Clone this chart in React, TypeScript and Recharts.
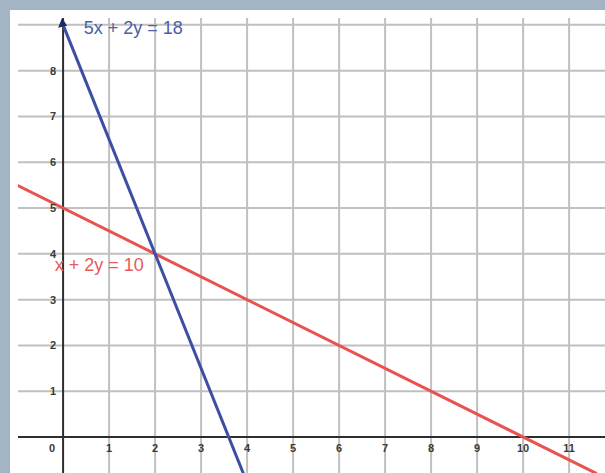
import React from 'react';
import { ComposedChart, Line, Scatter, XAxis, YAxis, CartesianGrid, ReferenceLine, ReferenceDot } from 'recharts';

const xGridValues = [1, 2, 3, 4, 5, 6, 7, 8, 9, 10, 11];
const yGridValues = [1, 2, 3, 4, 5, 6, 7, 8, 9];
const xTickLabels = [0, 1, 2, 3, 4, 5, 6, 7, 8, 9, 10, 11];
const yTickLabels = [1, 2, 3, 4, 5, 6, 7, 8];
// 5x + 2y = 18
const blueLine = [
  { x: 0, y: 9 },
  { x: 3.92, y: -0.8 },
];
// x + 2y = 10
const redLine = [
  { x: -1, y: 5.5 },
  { x: 11.6, y: -0.8 },
];

const xTickData = xTickLabels.map((v) => ({ x: v, y: 0, label: String(v) }));
const yTickData = yTickLabels.map((v) => ({ x: 0, y: v, label: String(v) }));

const FONT = '"Liberation Sans", Arial, sans-serif';
const BLUE = '#3c4fa2';
const RED = '#e8524f';

const XTickShape = (props: any) => {
  const { cx, cy, payload } = props;
  const dx = payload.x === 0 ? -11 : 0;
  return (
    <text x={cx + dx} y={cy + 15} textAnchor="middle" fontSize={11} fontWeight={700} fill="#3a3a3a" fontFamily={FONT}>
      {payload.label}
    </text>
  );
};

const YTickShape = (props: any) => {
  const { cx, cy, payload } = props;
  return (
    <text x={cx - 10} y={cy + 4} textAnchor="middle" fontSize={11} fontWeight={700} fill="#3a3a3a" fontFamily={FONT}>
      {payload.label}
    </text>
  );
};

const ArrowDot = (props: any) => {
  const { cx, cy, index } = props;
  if (index !== 0 || cx == null) return <g key={`d${index}`} />;
  return (
    <polygon
      key="arrow"
      points={`${cx - 1},${cy - 7} ${cx - 5},${cy + 3} ${cx + 4},${cy + 1}`}
      fill="#1e2a60"
    />
  );
};

export default function App() {
  return (
    <div style={{ position: 'absolute', left: 0, top: 0, width: 605, height: 473, background: '#a3b4c4', overflow: 'hidden' }}>
      <div style={{ position: 'absolute', left: 10, top: 10, width: 595, height: 463, background: '#ffffff' }}>
        <ComposedChart width={595} height={463} margin={{ top: 8, left: 8, right: 0, bottom: 0 }}>
          <XAxis type="number" dataKey="x" domain={[-0.98, 11.78]} allowDataOverflow hide />
          <YAxis type="number" dataKey="y" domain={[-0.786, 9.15]} allowDataOverflow hide />
          <CartesianGrid
            stroke="#c0c0c0"
            strokeWidth={2}
            horizontalValues={yGridValues}
            verticalValues={xGridValues}
          />
          <ReferenceLine x={0} stroke="#2e2e2e" strokeWidth={2} />
          <ReferenceLine y={0} stroke="#2e2e2e" strokeWidth={2} />
          <Scatter data={xTickData} shape={<XTickShape />} isAnimationActive={false} />
          <Scatter data={yTickData} shape={<YTickShape />} isAnimationActive={false} />
          <Line data={redLine} dataKey="y" stroke={RED} strokeWidth={3} dot={false} isAnimationActive={false} />
          <Line data={blueLine} dataKey="y" stroke={BLUE} strokeWidth={3} dot={<ArrowDot />} isAnimationActive={false} />
          <ReferenceDot
            x={0.45}
            y={8.93}
            r={0}
            stroke="none"
            fill="none"
            label={{ value: '5x + 2y = 18', position: 'right', offset: 0, fill: '#4a60aa', fontSize: 18, fontFamily: FONT }}
          />
          <ReferenceDot
            x={-0.18}
            y={3.77}
            r={0}
            stroke="none"
            fill="none"
            label={{ value: 'x + 2y = 10', position: 'right', offset: 0, fill: '#e85a5a', fontSize: 18, fontFamily: FONT }}
          />
        </ComposedChart>
      </div>
    </div>
  );
}
